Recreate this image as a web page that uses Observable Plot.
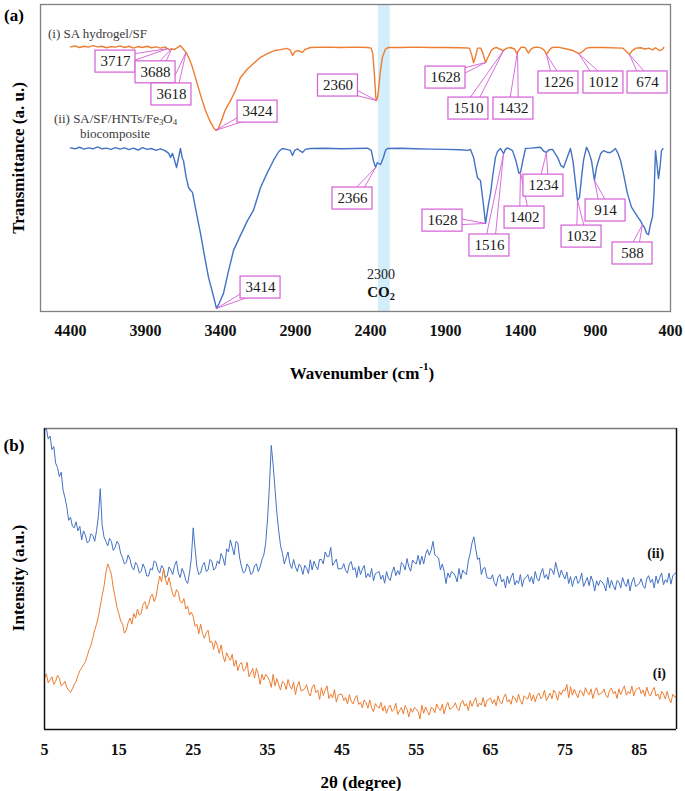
<!DOCTYPE html>
<html><head><meta charset="utf-8">
<script src="https://cdn.jsdelivr.net/npm/d3@7"></script>
<script src="https://cdn.jsdelivr.net/npm/@observablehq/plot@0.6"></script>
<style>
body{margin:0;background:#fff;}
#root{position:relative;width:685px;height:791px;background:#fff;}
#root svg{position:absolute;left:0;overflow:visible;}
</style></head><body><div id="root"></div>
<script>
// ---------- FTIR (a) ----------
const ftirTicks = [4400,3900,3400,2900,2400,1900,1400,900,400];
const co2Band = [2347, 2268];

const ftirW_SA = [4400,4370,4340,4310,4280,4250,4220,4190,4160,4130,
4100,4070,4040,4010,3980,3950,3920,3890,3860,3830,
3800,3770,3753,3740,3725,3710,3690,3667,3650,3630,
3610,3590,3560,3530,3500,3470,3445,3430,3415,3395,
3370,3333,3300,3267,3220,3180,3133,3087,3040,3000,
2960,2935,2920,2905,2887,2870,2853,2835,2800,2700,
2600,2500,2420,2395,2385,2375,2365,2360,2352,2347,
2335,2320,2300,2280,2200,2100,2000,1900,1800,1740,
1725,1713,1700,1687,1665,1650,1633,1615,1595,1580,
1560,1540,1513,1495,1467,1440,1425,1410,1395,1370,
1347,1330,1310,1287,1260,1240,1227,1210,1190,1150,
1100,1050,1012,990,960,930,850,720,690,674,
655,630,600,570,545,520,500,475,455,445];
const ftirT_SA = [86.2,86.5,86.0,86.4,86.1,86.6,86.2,86.4,85.9,86.3,
86.1,86.5,86.0,86.4,85.8,86.3,86.0,86.4,85.9,86.2,
85.8,86.2,85.6,85.2,85.6,85.3,85.9,86.6,85.6,84.4,
82.5,80,75,70,65.5,62,59.8,59.0,59.5,62,
65.5,68.7,72,76.2,79,80.8,82.8,84.0,85.0,85.3,
85.7,85.2,83.4,84.6,85.0,84.7,84.4,85.4,86.0,86.1,
86.0,86.1,86.0,85.8,84,78,70,68.7,70,72,
78,83,85.5,86.0,86.0,86.1,86.0,86.0,85.9,85.8,
83.5,81.1,83,85.8,85.8,84,81.1,83,85,85.7,
86,85.5,85.0,85.7,86.0,85.5,84.0,85.2,86.1,86.0,
84.2,85.5,86.0,86.1,85.8,85.0,83.7,85,86.0,86.1,
85.6,85.0,84.0,84.5,85.8,86.0,86.0,85.8,84.5,83.7,
85,85.8,85.9,85.5,85.8,85.2,85.9,85.0,85.3,86.0];

const ftirW_Comp = [4400,4370,4340,4310,4280,4250,4220,4190,4160,4130,
4100,4070,4040,4010,3980,3950,3920,3890,3860,3830,
3800,3770,3745,3733,3720,3705,3693,3680,3667,3655,
3647,3630,3613,3600,3587,3560,3533,3507,3480,3455,
3440,3427,3410,3380,3350,3313,3267,3220,3180,3133,
3090,3047,3010,2987,2960,2935,2920,2905,2887,2870,
2853,2835,2800,2700,2600,2500,2420,2395,2380,2366,
2355,2347,2333,2315,2300,2287,2200,2100,2000,1900,
1800,1750,1733,1713,1687,1667,1650,1633,1615,1600,
1585,1567,1553,1533,1513,1500,1487,1453,1430,1410,
1400,1385,1367,1330,1287,1267,1245,1227,1210,1187,
1153,1130,1113,1090,1067,1050,1033,1020,1007,990,
980,960,945,927,907,893,880,865,847,820,
800,780,767,750,733,710,687,660,620,600,
587,575,560,547,535,520,510,500,490,480,
470,460,450];
const ftirT_Comp = [53.3,53.0,53.5,52.9,53.3,53.0,53.6,53.0,53.2,52.8,
53.4,52.9,53.3,52.7,53.2,52.6,53.4,52.8,53.1,52.5,
53.0,52.4,51.5,50.2,51.5,49,46.9,50,53.1,50,
49.2,44,40.4,39.5,38.8,32,25.4,18.2,11.1,6.5,
3.6,1.0,2.5,5.9,12.5,19.9,24.8,29.6,33,40.4,
45,49.2,52.2,53.1,52.8,52.5,50.8,52.5,53.0,52.3,
51.8,52.8,53.1,53.2,53.0,53.1,53.2,52.5,49,46.9,
48.5,48.2,47.9,50,52.5,53.1,53.2,53.0,52.9,52.8,
52.7,52.5,52.8,50.2,43.6,42.7,36,28.7,34.5,38.4,
44.3,50.2,52.1,53.1,51.4,52.8,53.3,52.4,49,45,
45.3,49,53.1,53.2,53.4,53.5,52.2,51.8,52.7,52.8,
50.2,47.5,46.9,50,53.1,49,41.7,36.2,37.1,45,
49.2,53.5,52,49.2,42.7,47,49.2,51.5,52.4,51.8,
51.8,52.5,53.1,51.5,49.2,44,38.4,34,30.9,29.5,
28.3,27.5,25.5,25.0,28,30.9,38,52.4,48,43.3,
47,52.4,53];

// peak callouts: label, peak position, label-box centre (wavenumber, transmittance)
const saPeakText = ["3717","3688","3618","3424","2360","1628","1510","1432","1226","1012","674"];
const saPeakW   = [3753,3725,3630,3433,2360,1633,1513,1420,1227,1012,674];
const saPeakT   = [85.6,85.6,84.4,59.0,68.7,81.1,85.0,84.6,83.7,84.0,83.7];
const saBoxW    = [4100,3833,3727,3153,2617,1900,1747,1447,1147,847,553];
const saBoxT    = [81.4,77.9,70.7,65.1,73.6,76.2,66.1,66.1,74.6,74.6,74.6];

const compPeakText = ["2366","1628","1516","1402","1234","1032","914","588","3414"];
const compPeakW    = [2366,1633,1513,1400,1227,1020,907,587,3427];
const compPeakT    = [46.9,28.7,51.4,45.3,51.8,36.2,42.7,28.3,1.0];
const compBoxW     = [2520,1920,1607,1373,1247,993,833,653,3133];
const compBoxT     = [36.8,29.6,21.5,30.6,41.0,24.4,32.9,18.9,7.8];

// ---------- XRD (b) ----------
const xrdTicks = [5,15,25,35,45,55,65,75,85];
const twoThetaStart = 5, twoThetaStep = 0.25;   // step-scan grid, 5° to 90°
const xrdComp = [
99.5,100,96.5,97.5,93,94,88.5,87,84,85.5,79.5,77,74,69.5,70.5,67.5,67,69,66,67.5,
63,66,64.5,62,62.5,65,64.5,62.5,66,71,80,68,64,62.5,61,63.5,62.5,59.5,60.5,62.5,
61.5,58.5,57,55,55.5,58,56.5,54,53,55.5,54.5,52,52.5,55,53.5,51,51,53.5,53,56,
55.5,53,52,54.5,53.5,50.5,51,54,53,51.5,54.5,56,52,50.5,53.5,52,49.5,48.5,52,57,
67,60,54,51.5,52,54.5,55.5,52.5,53,56.5,56,53,53.5,56,55,58.5,57,54.5,60,59,
63,60.5,58,62.5,62,57,54,52,52.5,55,54,51.5,52,54.5,55,52.5,54,56.5,58,62,
70,81,94.4,88,80,72,66,61,58.5,55,57,59,55,53.5,56.5,54,52.5,55,54,51.5,
54.5,53.6,51.8,56.4,53,55.9,54.3,53.1,56.5,56.5,55,59,57.5,57.5,60.5,54.5,55.5,56.6,53.3,53.4,
53.5,55.1,52.8,51.9,55,55.8,53,53.8,50.5,54.3,51.5,53.3,54.5,50.4,51.8,50.6,53.5,49.4,51.8,52.1,
52.5,49.9,51.3,48.6,52.5,50.3,49.5,52.3,54,51.1,52.8,51.4,55.5,54.8,53,56.8,54,52.6,56.3,55.4,
55,57.9,54.8,57.6,55,58.1,59.8,57.9,59.5,62.5,58,57.5,57,53,55,52.5,48.5,52,50.5,52.5,
52,51,49,53.5,50,53,52,51.5,56,58.5,62,64,60,56.5,57,51.5,53.5,53.8,50.5,50.3,
50,51.4,48.8,47.6,50.5,51.5,49,50,47,51,48.5,50.5,52,48,49.5,48.5,51.5,47.5,50,50.5,
51.5,49.1,50.8,48.4,52.5,50.1,49.3,51.9,53.5,50.3,51.5,49.8,53.5,53,51.5,55.5,53,50.5,53,51.3,
50,52.3,48.5,50.8,47.5,50,51,48.5,49.5,52,47.5,49,50.5,47.8,51,49.3,46,49.4,47.8,49.6,
49,48,46,50.5,47,49.6,47.8,46.4,49.5,49,47,50.5,48.5,47.5,50,46,49,50.5,47.5,48,
48.5,50.1,47.8,46.9,50,51.1,48.8,49.9,47,51,48.5,50.5,52,48.1,49.8,48.9,52,48.3,51,51.8,
52];
const xrdSA = [
17,18.5,15.5,16.5,17.5,15,16,18,17,14.5,15,16,14,13,12.3,13.5,15,16,18,19.5,
20.5,21.5,22.5,24.5,26.5,28,30.5,33,35,37.5,41,44.5,47.5,52,55,53.5,51.5,47,44,40.5,
38.5,36,35,32,33,35.5,37,35,38.5,37,40,38,38.5,41.5,42.5,40,41.5,44,45,42.5,
44,48,51,49,53.5,50,48,50.5,47.5,45,44,46.5,45.5,42.5,42,43.5,40,41,38,39,
37.5,34.3,35,31.8,35,31.9,30.3,32.1,33,28.9,29.3,26.6,29.5,27.9,25.3,28.1,24.5,22.5,25.5,24,
23,25,21,23,19.5,21.6,22.3,19.4,20,22.3,17.5,18.8,20.3,17.1,20.3,18.4,15,18.3,16.5,18.3,
17.5,16.3,14,18.3,14.5,16.9,14.8,13.1,16,15.4,13.3,16.6,14.5,13.4,15.8,11.6,14.5,15.9,12.8,13.1,
13.5,14.9,12.3,11.1,14,14.9,12.3,13.1,10,13.9,11.3,13.1,14.5,10.3,11.7,10.5,13.3,9.1,11.4,11.7,
11.7,9.6,10.7,8.5,11.6,9.4,8.5,10.3,11.3,8.3,9,7.2,9.8,8.9,7.1,9.8,7.2,5.9,8.6,7.6,
7.1,9,6.1,7.9,5.4,7.3,8.1,6,6.7,8.7,5,6.2,7.3,5.2,8,6.7,4.2,7,5.7,7.3,
6.8,6,3.5,8.1,5.4,7.5,6,4.8,7.3,7,5.6,8.5,7,6.3,8.4,5.2,7.7,9,6.7,7.1,
7.6,8.9,7,6.3,8.8,9.7,7.8,8.6,6.3,9.6,7.7,9.3,10.6,7.5,8.8,8.1,10.6,7.5,9.6,10.1,
10.5,8.6,9.9,7.9,11.2,9.3,8.5,10.6,11.8,9.1,9.9,8.4,11.2,10.5,9,11.8,9.5,8.4,11.2,10.5,
10.1,12.2,9.5,11.5,9.2,11.3,12.1,10.2,11,13.1,9.6,10.8,12.1,10.2,13.1,12,9.7,12.6,11.5,13.2,
12.8,15,10.5,14.2,11.4,13.4,11.8,10.6,13,12.6,11.1,13.9,12.3,11.5,13.5,10.3,12.7,13.9,11.5,11.9,
12.2,13.4,11.4,10.6,13,13.8,11.8,12.7,10.3,13.5,11.6,13.2,14.5,11.4,12.6,11.9,14.4,11.2,13.2,13.6,
14,11.9,13.1,11,14.1,12,11.1,12.9,14,11.1,11.8,10,12.7,11.8,10.1,12.7,10.2,8.9,11.7,10.8,
10.8];
const xrdSeriesLabels = ["(ii)", "(i)"];
const xrdLabelTheta = [87.2, 87.7];
const xrdLabelI = [58.5, 18.6];

// ---------- styling / layout ----------
const serif = "'Liberation Serif','Times New Roman',Times,serif";
const ORANGE = "#ED7D31", BLUE = "#4472C4", PINK = "#d45ed4";
const W = 685;
const A = {height:400, top:4, bottom:89, left:40, right:15, x:[4600,400], y:[0,100]};
const B = {height:391, top:28, bottom:62, left:44, right:9, x:[5,90], y:[0,100]};
const kx = (W - A.left - A.right) / (A.x[0] - A.x[1]);
const ky = (A.height - A.top - A.bottom) / (A.y[1] - A.y[0]);
const boxHW = 20 / kx, boxHH = 11 / ky;

function callouts(text, pw, pt, bw, bt) {
  return text.map((t, i) => {
    const dx = -(pw[i] - bw[i]) * kx, dy = -(pt[i] - bt[i]) * ky;
    const len = Math.hypot(dx, dy) || 1;
    const nx = -dy / len, ny = dx / len, off = 5;
    return {t, pw: pw[i], pt: pt[i], bw: bw[i], bt: bt[i], ow: nx * off / -kx, ot: ny * off / -ky};
  });
}
const calSA = callouts(saPeakText, saPeakW, saPeakT, saBoxW, saBoxT);
const calComp = callouts(compPeakText, compPeakW, compPeakT, compBoxW, compBoxT);
const allCal = calSA.concat(calComp);

const saData = ftirW_SA.map((w, i) => ({w, t: ftirT_SA[i]}));
const compData = ftirW_Comp.map((w, i) => ({w, t: ftirT_Comp[i]}));
const fmt = d => String(d);

const plotA = Plot.plot({
  width: W, height: A.height,
  marginTop: A.top, marginBottom: A.bottom, marginLeft: A.left, marginRight: A.right,
  x: {domain: A.x}, y: {domain: A.y, axis: null},
  style: {fontFamily: serif, background: "transparent", overflow: "visible"},
  marks: [
    Plot.rect([co2Band], {x1: d => d[0], x2: d => d[1], y1: () => A.y[0], y2: () => A.y[1], fill: "#d4edfa"}),
    Plot.frame({stroke: "#808080", strokeWidth: 1.3}),
    Plot.line(saData, {x: "w", y: "t", stroke: ORANGE, strokeWidth: 1.4}),
    Plot.line(compData, {x: "w", y: "t", stroke: BLUE, strokeWidth: 1.4}),
    Plot.link(allCal, {x1: d => d.bw + d.ow, y1: d => d.bt + d.ot, x2: "pw", y2: "pt", stroke: PINK, strokeWidth: 0.9}),
    Plot.link(allCal, {x1: d => d.bw - d.ow, y1: d => d.bt - d.ot, x2: "pw", y2: "pt", stroke: PINK, strokeWidth: 0.9}),
    Plot.rect(allCal, {x1: d => d.bw + boxHW, x2: d => d.bw - boxHW, y1: d => d.bt - boxHH, y2: d => d.bt + boxHH, fill: "white", stroke: PINK, strokeWidth: 1.2}),
    Plot.text(allCal, {x: "bw", y: "bt", text: "t", fontSize: 15, fill: "#1a1a1a", fontFamily: serif}),
    Plot.axisX({ticks: ftirTicks, tickFormat: fmt, tickSize: 0, tickPadding: 13, fontSize: 16, fontWeight: "bold", fontFamily: serif, label: null, fill: "#111"})
  ]
});
plotA.style.top = "0px";

const xrdRows = xrdComp.map((c, i) => ({x: twoThetaStart + i * twoThetaStep, comp: c, sa: xrdSA[i]}));
const xrdLbl = xrdSeriesLabels.map((t, i) => ({t, x: xrdLabelTheta[i], y: xrdLabelI[i]}));

const plotB = Plot.plot({
  width: W, height: B.height,
  marginTop: B.top, marginBottom: B.bottom, marginLeft: B.left, marginRight: B.right,
  x: {domain: B.x}, y: {domain: B.y, axis: null},
  style: {fontFamily: serif, background: "transparent", overflow: "visible"},
  marks: [
    Plot.line(xrdRows, {x: "x", y: "comp", stroke: BLUE, strokeWidth: 1}),
    Plot.line(xrdRows, {x: "x", y: "sa", stroke: ORANGE, strokeWidth: 1}),
    Plot.ruleY([B.y[1]], {stroke: "#7a7a7a", strokeWidth: 1.5}),
    Plot.ruleY([B.y[0]], {stroke: "#111", strokeWidth: 1.5}),
    Plot.ruleX([B.x[0]], {stroke: "#111", strokeWidth: 1.5}),
    Plot.ruleX([B.x[1]], {stroke: "#111", strokeWidth: 1.5}),
    Plot.text(xrdLbl, {x: "x", y: "y", text: "t", fontSize: 14, fontWeight: "bold", fill: "#111", fontFamily: serif}),
    Plot.axisX({ticks: xrdTicks, tickFormat: fmt, tickSize: 0, tickPadding: 14, fontSize: 16, fontWeight: "bold", fontFamily: serif, label: null, fill: "#111"})
  ]
});
plotB.style.top = "400px";

const root = document.getElementById("root");
root.append(plotA, plotB);

for (const svg of [plotA, plotB]) {
  d3.select(svg).selectAll('[aria-label="x-axis tick label"]')
    .attr("font-weight", "bold").attr("font-size", 16).attr("font-family", serif);
}

function addText(svg, o) {
  const size = o.size || 15;
  const t = d3.select(svg).append("text")
    .attr("text-anchor", o.anchor || "middle")
    .attr("font-size", size).attr("font-weight", o.weight || "normal")
    .attr("fill", o.fill || "#000").attr("font-family", serif)
    .attr("dominant-baseline", "central");
  if (o.rotate) t.attr("transform", `translate(${o.x},${o.y}) rotate(-90)`);
  else t.attr("x", o.x).attr("y", o.y);
  let pend = 0;
  for (const p of o.parts) {
    if (typeof p === "string") {
      const s = t.append("tspan").text(p);
      if (pend) s.attr("dy", pend);
      pend = 0;
    } else if (p.sub) {
      t.append("tspan").attr("dy", size * 0.28 + pend).attr("font-size", size * 0.68).text(p.sub);
      pend = -size * 0.28;
    } else if (p.sup) {
      t.append("tspan").attr("dy", -size * 0.42 + pend).attr("font-size", size * 0.65).text(p.sup);
      pend = size * 0.42;
    }
  }
}
// panel (a) texts
addText(plotA, {x: 14, y: 15, size: 17, weight: "bold", parts: ["(a)"]});
addText(plotA, {x: 18, y: 158, size: 17, weight: "bold", rotate: true, parts: ["Transmittance (a. u.)"]});
addText(plotA, {x: 362, y: 373, size: 17, weight: "bold", parts: ["Wavenumber (cm", {sup: "-1"}, ")"]});
addText(plotA, {x: 48, y: 33, size: 13, anchor: "start", fill: "#3a3a3a", parts: ["(i) SA hydrogel/SF"]});
addText(plotA, {x: 54, y: 118, size: 13, anchor: "start", fill: "#3a3a3a", parts: ["(ii) SA/SF/HNTs/Fe", {sub: "3"}, "O", {sub: "4"}]});
addText(plotA, {x: 115, y: 133, size: 13, fill: "#3a3a3a", parts: ["biocomposite"]});
addText(plotA, {x: 381, y: 274, size: 14, fill: "#222", parts: ["2300"]});
addText(plotA, {x: 381, y: 292, size: 15, weight: "bold", fill: "#111", parts: ["CO", {sub: "2"}]});
// panel (b) texts
addText(plotB, {x: 14, y: 45, size: 17, weight: "bold", parts: ["(b)"]});
addText(plotB, {x: 18, y: 178, size: 17, weight: "bold", rotate: true, parts: ["Intensity (a.u.)"]});
addText(plotB, {x: 361, y: 382, size: 17, weight: "bold", parts: ["2θ (degree)"]});
</script></body></html>
